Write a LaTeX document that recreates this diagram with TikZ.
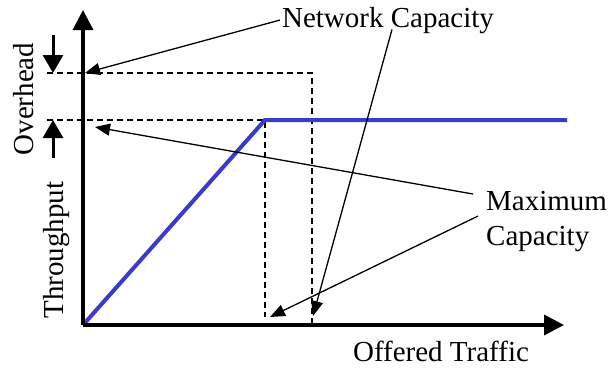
\documentclass[tikz,border=0pt]{standalone}
\usepackage{fontspec}
\setmainfont{Liberation Serif}
\usetikzlibrary{arrows.meta,positioning,calc}
\definecolor{curveblue}{RGB}{58,58,204}

\begin{document}
\begin{tikzpicture}[x=1pt,y=-1pt,
    axis/.style={line width=3.5pt,-{Triangle[length=20pt,width=20pt]}},
    guide/.style={dashed,line width=1.4pt,dash pattern=on 6pt off 4pt},
    pointer/.style={line width=1.3pt,-{Triangle[length=15pt,width=12pt]}},
    bound/.style={line width=3pt,-{Triangle[length=18pt,width=20pt]}},
    label/.style={font=\fontsize{29}{35}\selectfont,inner sep=2pt}]
    \useasboundingbox (0,0) rectangle (612,367);

    % Points on the chart
    \coordinate (origin) at (83,325);
    \coordinate (ytop) at (83,10);
    \coordinate (xend) at (564,325);
    \coordinate (netpt) at (312,73);
    \coordinate (maxpt) at (265,120);
    \coordinate (netaxis) at (85,73);
    \coordinate (maxaxis) at (95,127);
    \coordinate (netfoot) at (313,316);
    \coordinate (maxfoot) at (270,317);

    % Guide lines
    \draw[guide] (47,73) -- (netpt) -- (312,325);
    \draw[guide] (47,120) -- (maxpt) -- (265,317);

    % Throughput curve
    \draw[curveblue,line width=4pt] (origin) -- (maxpt) -- (567,120);

    % Axes
    \draw[axis] (origin) -- (ytop);
    \draw[axis] (origin) -- (xend);

    % Overhead band
    \draw[bound] (53,35) -- (53,73);
    \draw[bound] (53,158) -- (53,120);

    % Labels
    \node[label,anchor=base] (netcap) at (388,27) {Network Capacity};
    \node[label,anchor=base west,align=left] (maxcap) at (484,245) {Maximum\\Capacity};
    \node[label,anchor=base] (traffic) at (441,361) {Offered Traffic};
    \node[label,rotate=90,anchor=base] (overhead) at (33,99) {Overhead};
    \node[label,rotate=90,anchor=base] (thruput) at (63,250) {Throughput};

    % Pointers
    \draw[pointer] (netcap.west) -- (netaxis);
    \draw[pointer] ($(netcap.south)+(4,-6)$) -- (netfoot);
    \draw[pointer] ($(maxcap.west)+(-11,-27)$) -- (maxaxis);
    \draw[pointer] ($(maxcap.west)+(-6,-5)$) -- (maxfoot);
\end{tikzpicture}
\end{document}
